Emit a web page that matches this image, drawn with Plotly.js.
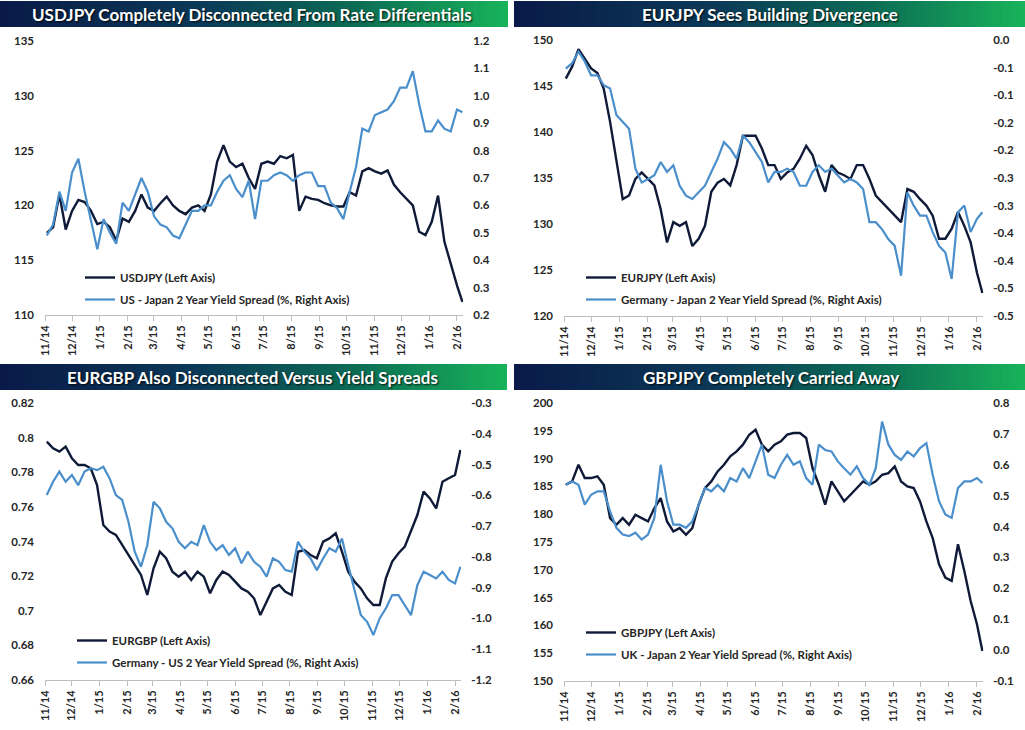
<!DOCTYPE html>
<html><head><meta charset="utf-8">
<script src="https://cdn.plot.ly/plotly-3.0.1.min.js"></script>
<style>html,body{margin:0;padding:0;background:#fff;} #chart{width:1025px;height:730px;}</style>
</head><body><div id="chart"></div>
<script>
// ---------- DATA ----------
const dates = ['2014-11-03','2014-11-10','2014-11-17','2014-11-24','2014-12-01','2014-12-08','2014-12-15','2014-12-22','2014-12-29',
'2015-01-05','2015-01-12','2015-01-19','2015-01-26','2015-02-02','2015-02-09','2015-02-16','2015-02-23','2015-03-02','2015-03-09',
'2015-03-16','2015-03-23','2015-03-30','2015-04-06','2015-04-13','2015-04-20','2015-04-27','2015-05-04','2015-05-11','2015-05-18',
'2015-05-25','2015-06-01','2015-06-08','2015-06-15','2015-06-22','2015-06-29','2015-07-06','2015-07-13','2015-07-20','2015-07-27',
'2015-08-03','2015-08-10','2015-08-17','2015-08-24','2015-08-31','2015-09-07','2015-09-14','2015-09-21','2015-09-28','2015-10-05',
'2015-10-12','2015-10-19','2015-10-26','2015-11-02','2015-11-09','2015-11-16','2015-11-23','2015-11-30','2015-12-07','2015-12-14',
'2015-12-21','2015-12-28','2016-01-04','2016-01-11','2016-01-18','2016-01-25','2016-02-01','2016-02-07'];

const usdjpy = [117.5,118.0,121.0,117.8,119.5,120.5,120.3,119.5,118.3,118.5,
118.0,116.8,118.8,118.5,119.5,121.0,119.8,119.5,120.2,120.8,
120.0,119.5,119.2,119.8,120.0,119.5,121.0,124.0,125.5,124.0,
123.5,123.8,122.5,121.5,123.8,124.0,123.8,124.5,124.3,124.6,
119.5,120.8,120.6,120.5,120.2,120.0,119.9,119.9,121.2,120.9,
123.1,123.4,123.1,122.9,123.2,121.9,121.2,120.6,120.0,117.6,
117.3,118.5,120.9,116.7,114.6,112.7,111.2];
const usJpSpread = [0.49,0.53,0.65,0.58,0.72,0.77,0.65,0.54,0.44,0.55,
0.50,0.46,0.61,0.58,0.64,0.70,0.65,0.56,0.53,0.52,
0.49,0.48,0.53,0.58,0.58,0.60,0.60,0.65,0.69,0.71,
0.66,0.63,0.69,0.55,0.69,0.69,0.71,0.72,0.71,0.69,
0.71,0.72,0.72,0.67,0.67,0.61,0.59,0.55,0.65,0.74,
0.88,0.87,0.93,0.94,0.95,0.98,1.03,1.03,1.09,0.97,
0.87,0.87,0.91,0.88,0.87,0.95,0.94];

const eurjpy = [145.8,147.1,149.0,148.0,146.9,146.4,144.7,141.1,137.1,132.7,
133.1,134.9,135.6,134.9,134.2,131.6,128.0,130.2,129.8,130.2,
127.6,128.4,129.8,133.5,134.5,134.9,134.2,136.4,139.6,139.6,
139.6,138.2,136.4,136.4,134.9,135.6,136.0,137.1,138.5,137.5,
135.3,133.5,136.4,135.6,135.3,134.9,136.4,136.4,134.9,133.1,
132.4,131.6,130.9,130.2,133.8,133.5,132.7,132.0,130.9,128.4,
128.4,129.5,131.3,129.8,128.0,124.7,122.5];
const deJpSpread = [-0.052,-0.042,-0.021,-0.039,-0.064,-0.064,-0.082,-0.088,-0.136,-0.148,
-0.161,-0.233,-0.258,-0.252,-0.245,-0.221,-0.239,-0.227,-0.264,-0.282,
-0.288,-0.276,-0.264,-0.239,-0.215,-0.185,-0.197,-0.215,-0.173,-0.185,
-0.203,-0.221,-0.258,-0.239,-0.239,-0.233,-0.239,-0.264,-0.264,-0.239,
-0.227,-0.239,-0.233,-0.245,-0.258,-0.252,-0.258,-0.270,-0.330,-0.330,
-0.343,-0.361,-0.373,-0.427,-0.276,-0.300,-0.318,-0.318,-0.348,-0.373,
-0.385,-0.433,-0.312,-0.300,-0.348,-0.324,-0.312];

const eurgbp = [0.7977,0.7938,0.7919,0.7948,0.7880,0.7842,0.7842,0.7823,0.7726,0.7495,
0.7457,0.7438,0.7380,0.7322,0.7264,0.7207,0.7091,0.7245,0.7341,0.7303,
0.7226,0.7197,0.7226,0.7178,0.7226,0.7197,0.7101,0.7178,0.7226,0.7207,
0.7168,0.7129,0.7110,0.7072,0.6975,0.7053,0.7129,0.7149,0.7110,0.7091,
0.7341,0.7350,0.7322,0.7303,0.7399,0.7418,0.7447,0.7341,0.7226,0.7168,
0.7129,0.7072,0.7033,0.7033,0.7188,0.7284,0.7332,0.7370,0.7457,0.7553,
0.7688,0.7649,0.7591,0.7745,0.7765,0.7784,0.7929];
const deUsSpread = [-0.599,-0.556,-0.523,-0.556,-0.534,-0.567,-0.523,-0.512,-0.518,-0.507,
-0.545,-0.599,-0.615,-0.686,-0.783,-0.832,-0.762,-0.621,-0.642,-0.686,
-0.707,-0.751,-0.772,-0.751,-0.762,-0.697,-0.751,-0.778,-0.762,-0.794,
-0.772,-0.821,-0.783,-0.816,-0.832,-0.864,-0.805,-0.816,-0.843,-0.848,
-0.751,-0.783,-0.805,-0.843,-0.805,-0.772,-0.783,-0.740,-0.827,-0.913,
-0.989,-1.011,-1.054,-1.000,-0.967,-0.924,-0.924,-0.957,-0.989,-0.892,
-0.848,-0.859,-0.870,-0.848,-0.875,-0.886,-0.832];

const gbpjpy = [185.3,185.9,188.9,186.5,186.5,186.8,185.3,179.3,178.1,179.3,
178.1,179.9,179.3,178.7,181.1,182.9,178.7,176.9,177.5,176.3,
177.5,181.7,184.7,185.9,187.7,188.9,190.4,191.3,192.5,194.3,
195.2,192.5,191.3,192.5,193.1,194.3,194.6,194.6,193.7,188.3,
185.3,181.7,185.9,184.1,182.3,183.5,184.7,185.9,185.3,185.9,
187.1,187.4,188.6,185.9,185.0,184.7,182.3,178.7,175.7,171.0,
168.6,168.0,174.6,169.8,164.4,160.2,155.4];
const ukJpSpread = [0.535,0.546,0.535,0.471,0.503,0.514,0.514,0.449,0.396,0.374,
0.369,0.380,0.358,0.374,0.428,0.600,0.482,0.406,0.406,0.396,
0.417,0.471,0.525,0.514,0.535,0.514,0.557,0.546,0.589,0.557,
0.611,0.665,0.568,0.557,0.600,0.632,0.600,0.611,0.557,0.535,
0.665,0.648,0.643,0.611,0.589,0.568,0.595,0.557,0.535,0.589,
0.740,0.665,0.632,0.616,0.643,0.627,0.654,0.670,0.568,0.482,
0.439,0.428,0.525,0.546,0.546,0.557,0.541];

const panelTitles = ['USDJPY Completely Disconnected From Rate Differentials','EURJPY Sees Building Divergence',
  'EURGBP Also Disconnected Versus Yield Spreads','GBPJPY Completely Carried Away'];
const leftNames = ['USDJPY (Left Axis)','EURJPY (Left Axis)','EURGBP (Left Axis)','GBPJPY (Left Axis)'];
const rightNames = ['US - Japan 2 Year Yield Spread (%, Right Axis)','Germany - Japan 2 Year Yield Spread (%, Right Axis)',
  'Germany - US 2 Year Yield Spread (%, Right Axis)','UK - Japan 2 Year Yield Spread (%, Right Axis)'];

const p1LeftTicks = [110,115,120,125,130,135];
const p1RightTicks = [0.2,0.3,0.4,0.5,0.6,0.7,0.8,0.9,1.0,1.1,1.2];
const p1RightText = ['0.2','0.3','0.4','0.5','0.6','0.7','0.8','0.9','1.0','1.1','1.2'];
const p2LeftTicks = [120,125,130,135,140,145,150];
const p2RightTicks = [0,-0.05,-0.1,-0.15,-0.2,-0.25,-0.3,-0.35,-0.4,-0.45,-0.5];
const p2RightText = ['0.0','-0.1','-0.1','-0.2','-0.2','-0.3','-0.3','-0.4','-0.4','-0.5','-0.5'];
const p3LeftTicks = [0.66,0.68,0.70,0.72,0.74,0.76,0.78,0.80,0.82];
const p3LeftText = ['0.66','0.68','0.7','0.72','0.74','0.76','0.78','0.8','0.82'];
const p3RightTicks = [-1.2,-1.1,-1.0,-0.9,-0.8,-0.7,-0.6,-0.5,-0.4,-0.3];
const p3RightText = ['-1.2','-1.1','-1.0','-0.9','-0.8','-0.7','-0.6','-0.5','-0.4','-0.3'];
const p4LeftTicks = [150,155,160,165,170,175,180,185,190,195,200];
const p4RightTicks = [-0.1,0,0.1,0.2,0.3,0.4,0.5,0.6,0.7,0.8];
const p4RightText = ['-0.1','0.0','0.1','0.2','0.3','0.4','0.5','0.6','0.7','0.8'];

// ---------- LAYOUT HELPERS ----------
const W = 1025, H = 730;
const px = x => x / W, py = y => 1 - y / H;
const FONT = 'Lato, "Open Sans", sans-serif';
const DARK = '#0f1a38', BLUE = '#4a8fcb', TXT = '#262626';
const xRange = ['2014-11-01', '2016-02-08'];

const panels = [
  {x0:45, x1:463.3, yTop:41, yBot:315, leftR:[110,135], rightR:[0.2,1.2], lt:p1LeftTicks, ltt:null, rt:p1RightTicks, rtt:p1RightText,
   L:usdjpy, R:usJpSpread, legX:80, legY:263, bar:[0,508,1,27], titleX:252},
  {x0:564, x1:983.3, yTop:40, yBot:316, leftR:[120,150], rightR:[-0.5,0], lt:p2LeftTicks, ltt:null, rt:p2RightTicks, rtt:p2RightText,
   L:eurjpy, R:deJpSpread, legX:581, legY:263, bar:[514,1025,1,27], titleX:770},
  {x0:45, x1:461.3, yTop:403, yBot:680, leftR:[0.66,0.82], rightR:[-1.2,-0.3], lt:p3LeftTicks, ltt:p3LeftText, rt:p3RightTicks, rtt:p3RightText,
   L:eurgbp, R:deUsSpread, legX:72, legY:626, bar:[0,507,364,390], titleX:252},
  {x0:564, x1:983.3, yTop:403, yBot:681, leftR:[150,200], rightR:[-0.1,0.8], lt:p4LeftTicks, ltt:null, rt:p4RightTicks, rtt:p4RightText,
   L:gbpjpy, R:ukJpSpread, legX:581, legY:618, bar:[514,1025,364,390], titleX:771}
];

const data = [];
const layout = {
  width: W, height: H, margin:{l:0,r:0,t:0,b:0}, paper_bgcolor:'#fff', plot_bgcolor:'rgba(0,0,0,0)',
  showlegend: true, shapes: [], annotations: [], font:{family:FONT}
};

const stops = [[0,[10,26,72]],[0.4,[11,58,88]],[0.7,[12,108,85]],[1,[24,179,90]]];
function gradColor(t){
  for (let i=0;i<stops.length-1;i++){
    const a=stops[i], b=stops[i+1];
    if (t<=b[0]){ const f=(t-a[0])/(b[0]-a[0]); const c=a[1].map((v,k)=>Math.round(v+(b[1][k]-v)*f)); return `rgb(${c[0]},${c[1]},${c[2]})`; }
  }
  return 'rgb(24,179,90)';
}

panels.forEach((p, i) => {
  const n = i + 1;
  const xa = n === 1 ? 'x' : 'x' + n;
  const yl = 'y' + (2*i+1 === 1 ? '' : (2*i+1));
  const yr = 'y' + (2*i+2);
  const legName = n === 1 ? 'legend' : 'legend' + n;
  data.push({x: dates, y: p.L, type:'scatter', mode:'lines', name: leftNames[i], xaxis: xa, yaxis: yl,
    line:{color: DARK, width: 2.4}, legend: legName, legendgroup: 'a'+n});
  data.push({x: dates, y: p.R, type:'scatter', mode:'lines', name: rightNames[i], xaxis: xa, yaxis: yr,
    line:{color: BLUE, width: 2.2}, legend: legName, legendgroup: 'b'+n});

  const xKey = n === 1 ? 'xaxis' : 'xaxis' + n;
  const ylKey = 'yaxis' + (2*i+1 === 1 ? '' : (2*i+1));
  const yrKey = 'yaxis' + (2*i+2);
  const yd = [py(p.yBot), py(p.yTop)];
  layout[xKey] = {domain:[px(p.x0), px(p.x1)], anchor: yl, type:'date', range: xRange,
    tick0:'2014-11-01', dtick:'M1', tickformat:'%-m/%y', tickangle:-90,
    showline:true, linecolor:'#bfbfbf', linewidth:1, ticks:'outside', ticklen:5, tickcolor:'#bfbfbf',
    showgrid:false, zeroline:false, tickfont:{family:FONT, size:11, color:TXT, weight:'bold'}};
  layout[ylKey] = {domain: yd, anchor: xa, range: p.leftR, tickmode:'array', tickvals: p.lt,
    ticktext: p.ltt || p.lt.map(String), showgrid:false, zeroline:false, showline:false, ticks:'',
    ticklabelstandoff: 10, tickfont:{family:FONT, size:11.5, color:TXT, weight:'bold'}};
  layout[yrKey] = {domain: yd, anchor: xa, overlaying: yl, side:'right', range: p.rightR, tickmode:'array',
    tickvals: p.rt, ticktext: p.rtt, showgrid:false, zeroline:false, showline:false, ticks:'',
    ticklabelstandoff: 9, tickfont:{family:FONT, size:11.5, color:TXT, weight:'bold'}};
  layout[legName] = {x: px(p.legX), y: py(p.legY), xanchor:'left', yanchor:'top', bgcolor:'rgba(0,0,0,0)',
    borderwidth:0, tracegroupgap: 3, font:{family:FONT, size:11.5, color:TXT, weight:'bold'}};

  // gradient title bar
  const [bx0, bx1, by0, by1] = p.bar;
  const N = 90, sw = (bx1 - bx0) / N;
  for (let k = 0; k < N; k++) {
    layout.shapes.push({type:'rect', xref:'paper', yref:'paper', layer:'below',
      x0: px(bx0 + k*sw), x1: px(Math.min(bx1, bx0 + (k+1)*sw + 0.8)), y0: py(by1), y1: py(by0),
      fillcolor: gradColor((k+0.5)/N), line:{width:0}});
  }
  layout.annotations.push({xref:'paper', yref:'paper', x: px(p.titleX), y: py((by0+by1)/2), text: panelTitles[i],
    showarrow:false, xanchor:'center', yanchor:'middle',
    font:{family:FONT, size:17, color:'#ffffff', weight:'bold', shadow:'1px 1px 2px rgba(0,0,0,0.85)'}});
});

Plotly.newPlot('chart', data, layout, {displayModeBar:false, staticPlot:true});
</script>
</body></html>
